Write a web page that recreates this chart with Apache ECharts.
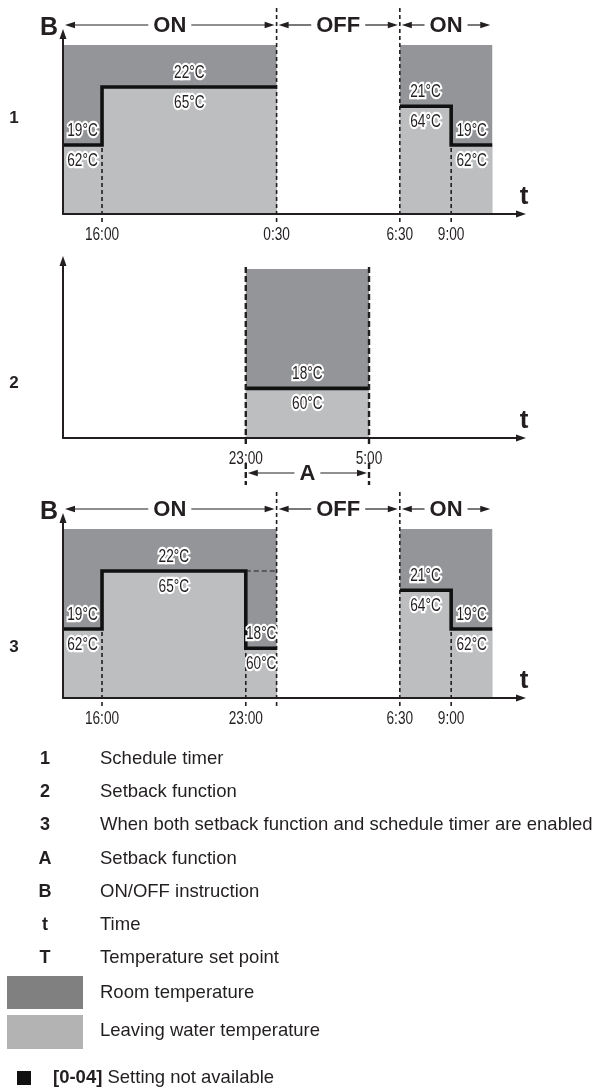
<!DOCTYPE html>
<html>
<head>
<meta charset="utf-8">
<script src="https://cdn.jsdelivr.net/npm/echarts@6.0.0/dist/echarts.min.js"></script>
<style>
html,body{margin:0;padding:0;background:#fff;}
#chart{width:598px;height:1090px;}
</style>
</head>
<body>
<div id="chart"></div>
<script>
// ===================== DATA =====================
// Time in hours counted from midnight of day 1 (24.5 = 0:30 next day)
const timeMin = 14.1;
const timeMax = 36.4;
// Vertical scale in room-temperature units (°C)
const tempMin = 15.43;
const tempMaxPanels = [24.74, 24.59, 24.74];
const zoneTop = 24.17;

// Panel 1 – schedule timer
const p1Ticks = [16, 24.5, 30.5, 33];
const p1TickLabels = ['16:00', '0:30', '6:30', '9:00'];
const p1SegStart = [14.1, 16, 30.5, 33];
const p1SegEnd = [16, 24.5, 33, 35];
const p1Room = [19, 22, 21, 19];
const p1Water = [62, 65, 64, 62];

// ON/OFF instruction (panels 1 and 3)
const onStart = [14.1, 30.5];
const onEnd = [24.5, 35];
const offStart = [24.5];
const offEnd = [30.5];

// Panel 2 – setback function
const p2Ticks = [23, 29];
const p2TickLabels = ['23:00', '5:00'];
const p2SegStart = [23];
const p2SegEnd = [29];
const p2Room = [18];
const p2Water = [60];

// Panel 3 – setback function and schedule timer both enabled
const p3Ticks = [16, 23, 30.5, 33];
const p3TickLabels = ['16:00', '23:00', '6:30', '9:00'];
const p3SegStart = [14.1, 16, 23, 30.5, 33];
const p3SegEnd = [16, 23, 24.5, 33, 35];
const p3Room = [19, 22, 18, 21, 19];
const p3Water = [62, 65, 60, 64, 62];
const p3SkippedStart = [23];
const p3SkippedEnd = [24.5];
const p3SkippedRoom = [22];

const panelNames = ['1', '2', '3'];
const legendKeys = ['1', '2', '3', 'A', 'B', 't', 'T'];
const legendTexts = ['Schedule timer', 'Setback function',
  'When both setback function and schedule timer are enabled',
  'Setback function', 'ON/OFF instruction', 'Time', 'Temperature set point'];
const swatchTexts = ['Room temperature', 'Leaving water temperature'];
const noteKey = '[0-04]';
const noteText = 'Setting not available';

// ===================== STYLE / LAYOUT =====================
const INK = '#231f20';
const DARK = '#939598';
const LIGHT = '#bcbec0';
const SW_DARK = '#808080';
const SW_LIGHT = '#b3b3b3';
const SANS = "'Liberation Sans',Arial,Helvetica,sans-serif";
const NARROW_FONT = '18px ' + SANS;
const NARROW_SCALE = 0.76;

const gridBoxes = [
  {left: 63, top: 34, width: 458, height: 180},
  {left: 63, top: 261, width: 458, height: 177},
  {left: 63, top: 518, width: 458, height: 180}
];

const measureCtx = document.createElement('canvas').getContext('2d');
function textWidth(str, font) { measureCtx.font = font; return measureCtx.measureText(str).width; }

const panels = [
  {ticks: p1Ticks, labels: p1TickLabels, ss: p1SegStart, se: p1SegEnd, room: p1Room, water: p1Water,
   zs: onStart, ze: onEnd, header: true},
  {ticks: p2Ticks, labels: p2TickLabels, ss: p2SegStart, se: p2SegEnd, room: p2Room, water: p2Water,
   zs: p2SegStart, ze: p2SegEnd, header: false},
  {ticks: p3Ticks, labels: p3TickLabels, ss: p3SegStart, se: p3SegEnd, room: p3Room, water: p3Water,
   zs: onStart, ze: onEnd, header: true}
];

function stepPoints(ss, se, lv) {
  const pts = [];
  ss.forEach((s, k) => {
    if (k > 0 && s !== se[k - 1]) pts.push([s, '-']);
    pts.push([s, lv[k]]);
    pts.push([se[k], lv[k]]);
  });
  return pts;
}
function stepDashes(ss, se, lv) {
  const out = [];
  for (let k = 1; k < ss.length; k++) {
    if (ss[k] === se[k - 1]) out.push([ss[k], Math.min(lv[k - 1], lv[k])]);
  }
  return out;
}
function narrowText(x, y, text, halo) {
  const base = {text: text, font: NARROW_FONT, align: 'center', verticalAlign: 'middle'};
  const ch = [];
  if (halo) ch.push({type: 'text', x: x, y: y, scaleX: NARROW_SCALE,
    style: Object.assign({fill: '#fff', stroke: '#fff', lineWidth: 4.5}, base)});
  ch.push({type: 'text', x: x, y: y, scaleX: NARROW_SCALE, style: Object.assign({fill: INK}, base)});
  return ch;
}
function arrowHead(xTip, y, dir) {
  return {type: 'polygon', shape: {points: [[xTip, y], [xTip - dir * 10, y - 3.2], [xTip - dir * 10, y + 3.2]]},
          style: {fill: INK}};
}
function labeledArrow(x1, y, x2, label) {
  const font = 'bold 22px ' + SANS;
  const w = textWidth(label, font);
  const cx = (x1 + x2) / 2;
  const g1 = cx - w / 2 - 5, g2 = cx + w / 2 + 5;
  const ch = [];
  if (g1 > x1 + 8) ch.push({type: 'line', shape: {x1: x1 + 6, y1: y, x2: g1, y2: y}, style: {stroke: INK, lineWidth: 1.2}});
  if (g2 < x2 - 8) ch.push({type: 'line', shape: {x1: g2, y1: y, x2: x2 - 6, y2: y}, style: {stroke: INK, lineWidth: 1.2}});
  ch.push(arrowHead(x1, y, -1));
  ch.push(arrowHead(x2, y, 1));
  ch.push({type: 'text', x: cx, y: y + 1, style: {text: label, font: font, fill: INK, align: 'center', verticalAlign: 'middle'}});
  return ch;
}

const series = [];
panels.forEach((P, i) => {
  const yMax = tempMaxPanels[i];
  // dark zone
  series.push({
    type: 'custom', name: 'Room temperature', xAxisIndex: i, yAxisIndex: i, z: 2, clip: false, silent: true,
    data: P.zs.map((s, k) => [s, P.ze[k], zoneTop]),
    renderItem: (params, api) => {
      const a = api.coord([api.value(0), tempMin]);
      const b = api.coord([api.value(1), api.value(2)]);
      return {type: 'rect', shape: {x: a[0], y: b[1], width: b[0] - a[0], height: a[1] - b[1]}, style: {fill: DARK}};
    }
  });
  // light area under the set point
  series.push({
    type: 'custom', name: 'Leaving water temperature', xAxisIndex: i, yAxisIndex: i, z: 3, clip: false, silent: true,
    data: P.ss.map((s, k) => [s, P.se[k], P.room[k]]),
    renderItem: (params, api) => {
      const a = api.coord([api.value(0), tempMin]);
      const b = api.coord([api.value(1), api.value(2)]);
      return {type: 'rect', shape: {x: a[0], y: b[1], width: b[0] - a[0], height: a[1] - b[1]}, style: {fill: LIGHT}};
    }
  });
  // dashed verticals at set-point steps
  series.push({
    type: 'custom', name: 'steps', xAxisIndex: i, yAxisIndex: i, z: 5, clip: false, silent: true,
    data: stepDashes(P.ss, P.se, P.room),
    renderItem: (params, api) => {
      const a = api.coord([api.value(0), tempMin]);
      const b = api.coord([api.value(0), api.value(1)]);
      return {type: 'line', shape: {x1: a[0], y1: a[1] + 8, x2: b[0], y2: b[1]},
              style: {stroke: INK, lineWidth: 1.6, lineDash: [4, 3]}};
    }
  });
  // set point line
  series.push({
    type: 'line', name: 'Temperature set point', xAxisIndex: i, yAxisIndex: i, z: 6, silent: true,
    data: stepPoints(P.ss, P.se, P.room), symbol: 'none', connectNulls: false, clip: false,
    lineStyle: {color: '#111', width: 3.6, cap: 'butt', join: 'miter'}
  });
  // temperature labels
  series.push({
    type: 'custom', name: 'labels', xAxisIndex: i, yAxisIndex: i, z: 8, clip: false, silent: true,
    data: P.ss.map((s, k) => [s, P.se[k], P.room[k], P.water[k]]),
    renderItem: (params, api) => {
      const s = api.value(0), e = api.value(1);
      const p = api.coord([(s + e) / 2, api.value(2)]);
      const ch = narrowText(p[0], p[1] - 14, api.value(2) + '°C', true)
        .concat(narrowText(p[0], p[1] + 16, api.value(3) + '°C', true));
      return {type: 'group', children: ch};
    }
  });
  // time tick labels
  series.push({
    type: 'custom', name: 'time labels', xAxisIndex: i, yAxisIndex: i, z: 8, clip: false, silent: true,
    data: P.ticks.map(t => [t, tempMin]),
    renderItem: (params, api) => {
      const p = api.coord([api.value(0), api.value(1)]);
      return {type: 'group', children: narrowText(p[0], p[1] + 21, P.labels[params.dataIndex], false)};
    }
  });
  if (P.header) {
    // ON/OFF boundaries – dashed full height
    series.push({
      type: 'custom', name: 'onoff bounds', xAxisIndex: i, yAxisIndex: i, z: 5, clip: false, silent: true,
      data: offStart.concat(offEnd).map(t => [t, yMax]),
      renderItem: (params, api) => {
        const a = api.coord([api.value(0), tempMin]);
        const b = api.coord([api.value(0), api.value(1)]);
        return {type: 'line', shape: {x1: a[0], y1: a[1] + 8, x2: b[0], y2: b[1] - 27},
                style: {stroke: INK, lineWidth: 1.6, lineDash: [4, 3]}};
      }
    });
    // header arrows
    const intervals = onStart.map((s, k) => [s, onEnd[k], 1]).concat(offStart.map((s, k) => [s, offEnd[k], 0]));
    series.push({
      type: 'custom', name: 'ON/OFF instruction', xAxisIndex: i, yAxisIndex: i, z: 9, clip: false, silent: true,
      data: intervals,
      renderItem: (params, api) => {
        const a = api.coord([api.value(0), yMax]);
        const b = api.coord([api.value(1), yMax]);
        const y = a[1] - 9;
        return {type: 'group', children: labeledArrow(a[0] + 2, y, b[0] - 2, api.value(2) ? 'ON' : 'OFF')};
      }
    });
  } else {
    // setback period bounds and the A arrow
    series.push({
      type: 'custom', name: 'Setback function', xAxisIndex: i, yAxisIndex: i, z: 9, clip: false, silent: true,
      data: P.zs.map((s, k) => [s, P.ze[k], zoneTop]),
      renderItem: (params, api) => {
        const a = api.coord([api.value(0), tempMin]);
        const b = api.coord([api.value(1), tempMin]);
        const top = api.coord([api.value(0), api.value(2)])[1];
        const ds = {stroke: INK, lineWidth: 2.4, lineDash: [6, 3]};
        const ch = [
          {type: 'line', shape: {x1: a[0], y1: top - 2, x2: a[0], y2: a[1] + 9}, style: ds},
          {type: 'line', shape: {x1: b[0], y1: top - 2, x2: b[0], y2: b[1] + 9}, style: ds},
          {type: 'line', shape: {x1: a[0], y1: a[1] + 25, x2: a[0], y2: a[1] + 47}, style: ds},
          {type: 'line', shape: {x1: b[0], y1: b[1] + 25, x2: b[0], y2: b[1] + 47}, style: ds}
        ];
        return {type: 'group', children: ch.concat(labeledArrow(a[0] + 2, a[1] + 35, b[0] - 2, 'A'))};
      }
    });
  }
});
// skipped (overridden) schedule level in panel 3
series.push({
  type: 'custom', name: 'skipped', xAxisIndex: 2, yAxisIndex: 2, z: 5, clip: false, silent: true,
  data: p3SkippedStart.map((s, k) => [s, p3SkippedEnd[k], p3SkippedRoom[k]]),
  renderItem: (params, api) => {
    const a = api.coord([api.value(0), api.value(2)]);
    const b = api.coord([api.value(1), api.value(2)]);
    return {type: 'line', shape: {x1: a[0], y1: a[1], x2: b[0], y2: b[1]}, style: {stroke: INK, lineWidth: 1.2, lineDash: [5, 3]}};
  }
});

// ===================== TEXT (graphic) =====================
const graphics = [];
function txt(x, y, text, font, align) {
  graphics.push({type: 'text', x: x, y: y, silent: true,
    style: {text: text, font: font, fill: INK, align: align || 'center', verticalAlign: 'middle',
            textAlign: align || 'center', textVerticalAlign: 'middle'}});
}
[0, 2].forEach(i => txt(49, gridBoxes[i].top - 6, 'B', 'bold 25px ' + SANS));
gridBoxes.forEach(g => txt(524, g.top + g.height - 17, 't', 'bold 26px ' + SANS));
const panelNumY = [118, 383, 647];
panelNames.forEach((n, i) => txt(14, panelNumY[i], n, 'bold 17px ' + SANS));

const LEG_FONT = '18.5px ' + SANS;
const LEG_KEY_FONT = 'bold 18px ' + SANS;
const legendY0 = 759, legendDy = 33.2;
legendKeys.forEach((k, i) => {
  txt(45, legendY0 + i * legendDy, k, LEG_KEY_FONT);
  txt(100, legendY0 + i * legendDy, legendTexts[i], LEG_FONT, 'left');
});
graphics.push({type: 'rect', shape: {x: 7, y: 976, width: 76, height: 33}, style: {fill: SW_DARK}});
graphics.push({type: 'rect', shape: {x: 7, y: 1015, width: 76, height: 34}, style: {fill: SW_LIGHT}});
txt(100, 993, swatchTexts[0], LEG_FONT, 'left');
txt(100, 1031, swatchTexts[1], LEG_FONT, 'left');
graphics.push({type: 'rect', shape: {x: 17, y: 1071, width: 14, height: 14}, style: {fill: '#111'}});
txt(53, 1078, noteKey, 'bold 18.5px ' + SANS, 'left');
txt(53 + textWidth(noteKey + ' ', 'bold 18.5px ' + SANS), 1078, noteText, LEG_FONT, 'left');

// ===================== CHART =====================
const chart = echarts.init(document.getElementById('chart'), null, {renderer: 'canvas'});
chart.setOption({
  animation: false,
  backgroundColor: '#fff',
  grid: gridBoxes.map(g => Object.assign({containLabel: false}, g)),
  xAxis: panels.map((P, i) => ({
    type: 'value', gridIndex: i, min: timeMin, max: timeMax, z: 10,
    axisLine: {show: true, onZero: false, lineStyle: {color: INK, width: 2},
               symbol: ['none', 'triangle'], symbolSize: [7, 10]},
    axisTick: {show: false}, splitLine: {show: false}, axisLabel: {show: false}
  })),
  yAxis: panels.map((P, i) => ({
    type: 'value', gridIndex: i, min: tempMin, max: tempMaxPanels[i], z: 10,
    axisLine: {show: true, onZero: false, lineStyle: {color: INK, width: 2},
               symbol: ['none', 'triangle'], symbolSize: [7, 10]},
    axisTick: {show: false}, axisLabel: {show: false}, splitLine: {show: false}
  })),
  series: series,
  graphic: graphics
});
</script>
</body>
</html>
